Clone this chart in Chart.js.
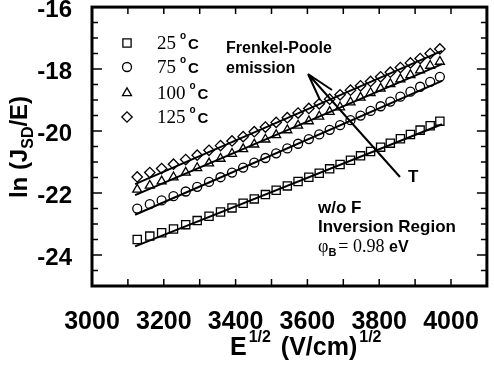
<!DOCTYPE html>
<html lang="en">
<head>
<meta charset="UTF-8">
<title>Frenkel-Poole emission</title>
<script src="https://cdn.jsdelivr.net/npm/chart.js"></script>
<style>
    html, body { margin: 0; padding: 0; background: #fff; }
    #chart { display: block; }
</style>
</head>
<body>
<canvas id="chart" width="494" height="378"></canvas>
<script>
    // Data: sqrt(E) and ln(J/E) for each temperature
    const temps = ['25', '75', '100', '125'];
    const sqrtE = [3126, 3161, 3194, 3227, 3261, 3293, 3326, 3358, 3390, 3421,
                   3452, 3483, 3513, 3544, 3574, 3604, 3633, 3662, 3691, 3720,
                   3748, 3776, 3804, 3831, 3859, 3887, 3914, 3942, 3969];
    const lnJ25 = [-23.50, -23.39, -23.28, -23.16, -23.02, -22.89, -22.75, -22.61, -22.48, -22.33,
                   -22.19, -22.05, -21.91, -21.77, -21.63, -21.49, -21.36, -21.22, -21.08, -20.94,
                   -20.80, -20.66, -20.52, -20.39, -20.25, -20.11, -19.97, -19.83, -19.68];
    const lnJ75 = [-22.50, -22.36, -22.24, -22.10, -21.95, -21.80, -21.64, -21.49, -21.34, -21.18,
                   -21.02, -20.87, -20.72, -20.56, -20.41, -20.26, -20.11, -19.96, -19.81, -19.65,
                   -19.50, -19.35, -19.20, -19.05, -18.89, -18.73, -18.57, -18.41, -18.25];
    const lnJ100 = [-21.89, -21.76, -21.62, -21.49, -21.34, -21.19, -21.04, -20.89, -20.73, -20.58,
                    -20.43, -20.27, -20.13, -19.97, -19.82, -19.68, -19.53, -19.38, -19.23, -19.07,
                    -18.92, -18.77, -18.63, -18.48, -18.33, -18.19, -18.04, -17.89, -17.76];
    const lnJ125 = [-21.48, -21.34, -21.21, -21.07, -20.92, -20.78, -20.62, -20.47, -20.32, -20.18,
                    -20.02, -19.87, -19.72, -19.57, -19.42, -19.27, -19.12, -18.97, -18.83, -18.68,
                    -18.54, -18.40, -18.25, -18.10, -17.95, -17.80, -17.66, -17.50, -17.35];

    // Linear fits (end points)
    const fitX = [3120, 3975];
    const fit25 = [-23.72, -19.78];
    const fit75 = [-22.70, -18.38];
    const fit100 = [-22.07, -17.84];
    const fit125 = [-21.71, -17.41];

    const xTicks = [3000, 3200, 3400, 3600, 3800, 4000];
    const yTicks = [-24, -22, -20, -18, -16];

    const SANS = '"Liberation Sans", Arial, sans-serif';
    const SERIF = '"Liberation Serif", "Times New Roman", serif';
    const markers = [
        { style: 'rect', radius: 5.8 },
        { style: 'circle', radius: 4.5 },
        { style: 'triangle', radius: 5.2 },
        { style: 'rectRot', radius: 5.2 }
    ];

    const pts = (xs, ys) => xs.map((x, i) => ({ x: x, y: ys[i] }));
    const seriesY = [lnJ25, lnJ75, lnJ100, lnJ125];
    const fitY = [fit25, fit75, fit100, fit125];

    const datasets = [];
    seriesY.forEach((ys, i) => {
        datasets.push({
            label: temps[i] + ' °C',
            data: pts(sqrtE, ys),
            showLine: false,
            pointStyle: markers[i].style,
            pointRadius: markers[i].radius,
            pointBorderWidth: 1.3,
            pointBorderColor: '#000',
            pointBackgroundColor: 'rgba(0,0,0,0)'
        });
    });
    fitY.forEach((ys) => {
        datasets.push({
            data: pts(fitX, ys),
            showLine: true,
            borderColor: '#000',
            borderWidth: 2,
            pointRadius: 0
        });
    });

    // draw a string made of several runs (for super/subscripts)
    function runsWidth(ctx, runs) {
        let w = 0;
        runs.forEach(r => { ctx.font = r.font; w += ctx.measureText(r.text).width + (r.gap || 0); });
        return w;
    }
    function drawRuns(ctx, x, y, runs) {
        runs.forEach(r => {
            ctx.font = r.font;
            ctx.fillText(r.text, x, y - (r.rise || 0));
            x += ctx.measureText(r.text).width + (r.gap || 0);
        });
    }

    const decorations = {
        id: 'decorations',
        afterDraw(chart) {
            const ctx = chart.ctx;
            const a = chart.chartArea;
            const xs = chart.scales.x;
            const ys = chart.scales.y;
            ctx.save();
            ctx.strokeStyle = '#000';
            ctx.fillStyle = '#000';

            // inward ticks on all four sides
            ctx.lineWidth = 1.5;
            ctx.beginPath();
            for (let v = 3100; v <= 4000; v += 100) {
                const px = xs.getPixelForValue(v);
                ctx.moveTo(px, a.bottom); ctx.lineTo(px, a.bottom - 7);
                ctx.moveTo(px, a.top); ctx.lineTo(px, a.top + 7);
            }
            for (let v = -24.5; v <= -16.5; v += 0.5) {
                const py = ys.getPixelForValue(v);
                const len = (v % 2 === 0) ? 10 : 6;
                ctx.moveTo(a.left, py); ctx.lineTo(a.left + len, py);
                ctx.moveTo(a.right, py); ctx.lineTo(a.right - len, py);
            }
            ctx.stroke();

            // frame
            ctx.lineWidth = 3;
            ctx.strokeRect(a.left, a.top, a.right - a.left, a.bottom - a.top);

            // legend
            ctx.textBaseline = 'alphabetic';
            ctx.textAlign = 'left';
            const legY = [43, 67, 93, 117];
            temps.forEach((t, i) => {
                ctx.lineWidth = 1.3;
                ctx.fillStyle = 'rgba(0,0,0,0)';
                Chart.helpers.drawPoint(ctx, {
                    pointStyle: markers[i].style, radius: markers[i].radius,
                    rotation: 0, borderWidth: 1.3
                }, 127, legY[i]);
                ctx.fillStyle = '#000';
                drawRuns(ctx, 157, legY[i] + 6, [
                    { text: t, font: '19px ' + SERIF, gap: 4 },
                    { text: 'o', font: 'bold 10px ' + SANS, rise: 10, gap: 2 },
                    { text: 'C', font: 'bold 15px ' + SANS }
                ]);
            });

            // annotations
            ctx.font = 'bold 16px ' + SANS;
            ctx.fillText('Frenkel-Poole', 226, 53);
            ctx.fillText('emission', 226, 73);
            ctx.font = 'bold 17px ' + SANS;
            ctx.fillText('T', 408, 182);
            ctx.fillText('w/o F', 318, 213);
            ctx.fillText('Inversion Region', 318, 232);
            drawRuns(ctx, 318, 252, [
                { text: 'φ', font: '18px ' + SERIF },
                { text: 'B', font: 'bold 11px ' + SANS, rise: -4, gap: 2 },
                { text: '= 0.98 ', font: '18px ' + SERIF },
                { text: 'eV', font: 'bold 16px ' + SANS }
            ]);

            // arrow (temperature direction)
            ctx.lineWidth = 2;
            ctx.beginPath();
            ctx.moveTo(400, 177); ctx.lineTo(308, 74);
            ctx.moveTo(308, 74); ctx.lineTo(332, 90);
            ctx.moveTo(308, 74); ctx.lineTo(320, 100);
            ctx.stroke();

            // x axis title
            drawRuns(ctx, 230, 355, [
                { text: 'E', font: 'bold 25px ' + SANS, gap: 2 },
                { text: '1/2', font: 'bold 16px ' + SANS, rise: 13, gap: 3 },
                { text: ' (V/cm)', font: 'bold 25px ' + SANS, gap: 2 },
                { text: '1/2', font: 'bold 16px ' + SANS, rise: 13 }
            ]);

            // y axis title (rotated)
            const yRuns = [
                { text: 'ln (J', font: 'bold 24px ' + SANS },
                { text: 'SD', font: 'bold 16px ' + SANS, rise: -6 },
                { text: '/E)', font: 'bold 24px ' + SANS }
            ];
            ctx.translate(27, 147);
            ctx.rotate(-Math.PI / 2);
            drawRuns(ctx, -runsWidth(ctx, yRuns) / 2, 0, yRuns);
            ctx.restore();
        }
    };

    new Chart(document.getElementById('chart'), {
        type: 'scatter',
        data: { datasets: datasets },
        options: {
            responsive: false,
            animation: false,
            devicePixelRatio: 1,
            layout: { padding: { top: 7, right: 6, left: 0, bottom: 0 } },
            plugins: { legend: { display: false }, tooltip: { enabled: false } },
            scales: {
                x: {
                    type: 'linear',
                    min: 3000,
                    max: 4100,
                    grid: { display: false },
                    border: { display: false },
                    ticks: {
                        color: '#000',
                        font: { family: SANS, size: 25, weight: 'bold' },
                        padding: 13,
                        maxRotation: 0,
                        autoSkip: false,
                        callback: (v) => String(v)
                    },
                    afterBuildTicks: (s) => { s.ticks = xTicks.map(v => ({ value: v })); },
                    afterFit: (s) => { s.height = 92; s.paddingLeft = 0; s.paddingRight = 0; }
                },
                y: {
                    type: 'linear',
                    min: -25,
                    max: -16,
                    grid: { display: false },
                    border: { display: false },
                    ticks: {
                        color: '#000',
                        font: { family: SANS, size: 24, weight: 'bold' },
                        padding: 12,
                        labelOffset: 3,
                        autoSkip: false,
                        callback: (v) => String(v)
                    },
                    afterBuildTicks: (s) => { s.ticks = yTicks.map(v => ({ value: v })); },
                    afterFit: (s) => { s.width = 92; s.paddingTop = 0; s.paddingBottom = 0; }
                }
            }
        },
        plugins: [decorations]
    });
</script>
</body>
</html>
